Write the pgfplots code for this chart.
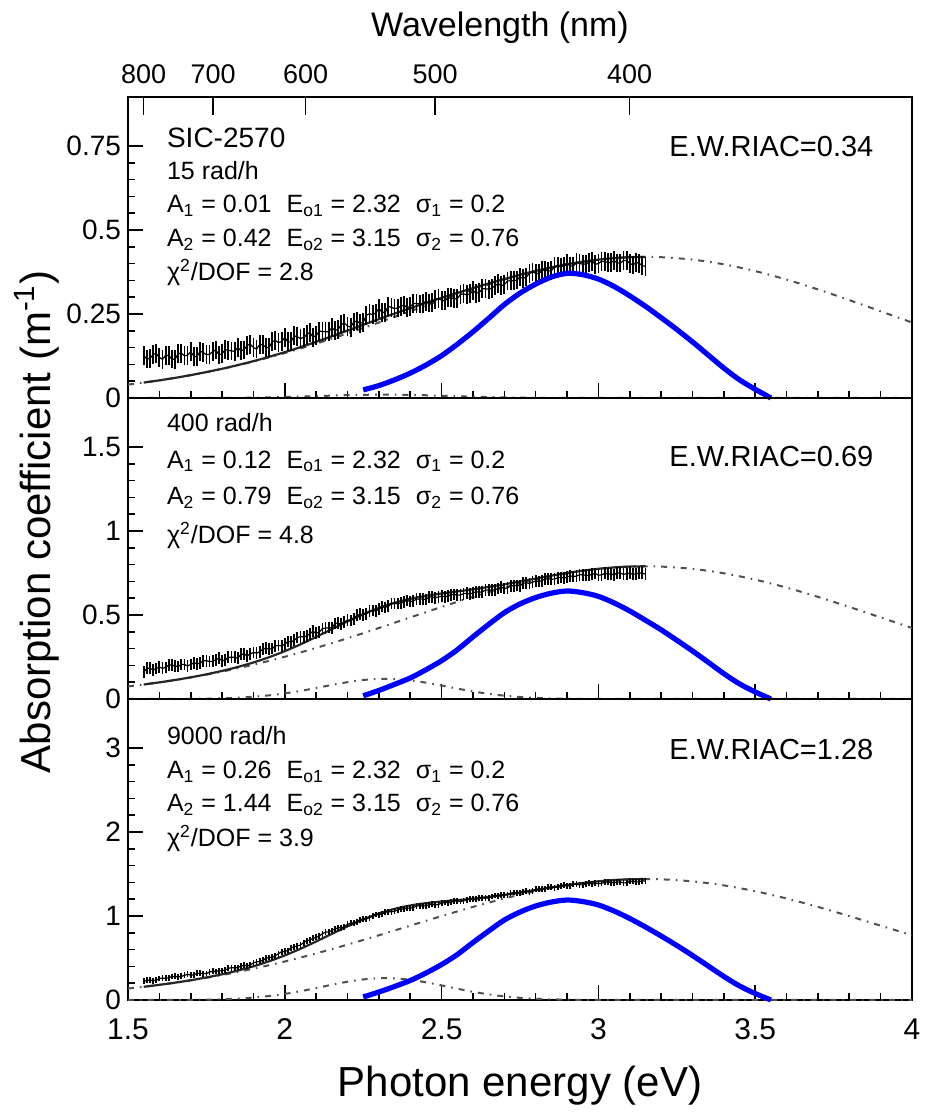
\documentclass[border=0pt]{standalone}
\usepackage{fontspec}
\setmainfont{Liberation Sans}
\usepackage{pgfplots}
\usepackage{pgfplotstable}
\pgfplotsset{compat=1.18}
\newcommand{\fs}[1]{\fontsize{#1}{#1}\selectfont}

\pgfplotstableread{
x T M B
1.55 0.126 0.160 0.222
1.56 0.116 0.183 0.233
1.57 0.117 0.183 0.239
1.58 0.130 0.172 0.231
1.59 0.132 0.182 0.236
1.60 0.121 0.189 0.256
1.61 0.115 0.183 0.260
1.62 0.127 0.188 0.259
1.63 0.126 0.202 0.263
1.64 0.116 0.203 0.280
1.65 0.115 0.195 0.281
1.66 0.132 0.194 0.273
1.67 0.133 0.206 0.281
1.68 0.126 0.205 0.294
1.69 0.127 0.197 0.305
1.70 0.138 0.205 0.297
1.71 0.124 0.216 0.297
1.72 0.123 0.209 0.317
1.73 0.139 0.214 0.317
1.74 0.135 0.227 0.314
1.75 0.129 0.228 0.315
1.76 0.130 0.223 0.332
1.77 0.138 0.224 0.344
1.78 0.143 0.234 0.339
1.79 0.128 0.243 0.349
1.80 0.132 0.227 0.351
1.81 0.144 0.231 0.357
1.82 0.142 0.249 0.377
1.83 0.140 0.248 0.385
1.84 0.139 0.248 0.381
1.85 0.150 0.242 0.387
1.86 0.141 0.266 0.402
1.87 0.143 0.267 0.412
1.88 0.157 0.257 0.408
1.89 0.160 0.268 0.417
1.90 0.150 0.277 0.443
1.91 0.146 0.273 0.453
1.92 0.159 0.281 0.460
1.93 0.159 0.298 0.472
1.94 0.150 0.302 0.497
1.95 0.150 0.297 0.506
1.96 0.168 0.300 0.509
1.97 0.171 0.316 0.528
1.98 0.165 0.319 0.552
1.99 0.168 0.315 0.574
2.00 0.180 0.327 0.578
2.01 0.167 0.342 0.589
2.02 0.167 0.339 0.621
2.03 0.185 0.349 0.633
2.04 0.182 0.366 0.642
2.05 0.177 0.371 0.655
2.06 0.180 0.370 0.683
2.07 0.189 0.375 0.706
2.08 0.195 0.389 0.712
2.09 0.181 0.403 0.733
2.10 0.186 0.391 0.745
2.11 0.199 0.398 0.761
2.12 0.198 0.419 0.790
2.13 0.197 0.421 0.807
2.14 0.197 0.425 0.812
2.15 0.209 0.422 0.827
2.16 0.201 0.449 0.846
2.17 0.204 0.452 0.860
2.18 0.219 0.445 0.860
2.19 0.223 0.458 0.873
2.20 0.214 0.470 0.901
2.21 0.211 0.468 0.913
2.22 0.226 0.478 0.920
2.23 0.229 0.498 0.932
2.24 0.222 0.504 0.957
2.25 0.225 0.502 0.966
2.26 0.246 0.506 0.965
2.27 0.251 0.523 0.980
2.28 0.248 0.527 1.000
2.29 0.253 0.524 1.018
2.30 0.267 0.535 1.016
2.31 0.255 0.550 1.021
2.32 0.255 0.545 1.045
2.33 0.273 0.553 1.049
2.34 0.270 0.568 1.050
2.35 0.266 0.569 1.055
2.36 0.268 0.568 1.073
2.37 0.273 0.571 1.086
2.38 0.277 0.579 1.082
2.39 0.269 0.587 1.093
2.40 0.272 0.580 1.094
2.41 0.281 0.583 1.100
2.42 0.281 0.595 1.118
2.43 0.280 0.594 1.124
2.44 0.281 0.595 1.118
2.45 0.288 0.592 1.122
2.46 0.283 0.607 1.133
2.47 0.285 0.607 1.139
2.48 0.294 0.602 1.131
2.49 0.296 0.608 1.136
2.50 0.291 0.612 1.156
2.51 0.289 0.609 1.160
2.52 0.298 0.612 1.159
2.53 0.299 0.621 1.163
2.54 0.295 0.622 1.180
2.55 0.296 0.618 1.181
2.56 0.308 0.619 1.173
2.57 0.310 0.627 1.181
2.58 0.307 0.629 1.194
2.59 0.310 0.625 1.205
2.60 0.319 0.631 1.197
2.61 0.312 0.638 1.197
2.62 0.314 0.635 1.217
2.63 0.325 0.639 1.217
2.64 0.325 0.648 1.214
2.65 0.324 0.649 1.215
2.66 0.327 0.648 1.232
2.67 0.334 0.650 1.244
2.68 0.340 0.658 1.239
2.69 0.334 0.665 1.249
2.70 0.338 0.658 1.250
2.71 0.348 0.661 1.255
2.72 0.349 0.674 1.273
2.73 0.349 0.674 1.279
2.74 0.351 0.676 1.273
2.75 0.360 0.674 1.277
2.76 0.356 0.690 1.289
2.77 0.360 0.692 1.296
2.78 0.371 0.688 1.289
2.79 0.375 0.696 1.295
2.80 0.371 0.702 1.316
2.81 0.370 0.700 1.321
2.82 0.380 0.704 1.321
2.83 0.381 0.714 1.326
2.84 0.378 0.716 1.344
2.85 0.379 0.713 1.346
2.86 0.391 0.714 1.338
2.87 0.393 0.722 1.346
2.88 0.390 0.724 1.359
2.89 0.393 0.720 1.370
2.90 0.401 0.726 1.361
2.91 0.393 0.733 1.360
2.92 0.393 0.729 1.378
2.93 0.403 0.732 1.376
2.94 0.401 0.740 1.371
2.95 0.398 0.740 1.370
2.96 0.399 0.736 1.383
2.97 0.404 0.736 1.391
2.98 0.407 0.742 1.382
2.99 0.398 0.747 1.388
3.00 0.400 0.737 1.385
3.01 0.407 0.738 1.387
3.02 0.406 0.748 1.402
3.03 0.404 0.745 1.405
3.04 0.403 0.744 1.396
3.05 0.409 0.739 1.397
3.06 0.402 0.751 1.404
3.07 0.402 0.749 1.406
3.08 0.409 0.742 1.394
3.09 0.409 0.746 1.395
3.10 0.401 0.748 1.411
3.11 0.396 0.743 1.411
3.12 0.403 0.744 1.406
3.13 0.401 0.750 1.406
3.14 0.394 0.749 1.419
3.15 0.392 0.743 1.416
}\datatab

\pgfplotstableread{
x T M B
1.55 0.0458 0.0861 0.1572
1.60 0.0525 0.0990 0.1804
1.65 0.0599 0.1131 0.2063
1.70 0.0681 0.1290 0.2354
1.75 0.0772 0.1469 0.2685
1.80 0.0870 0.1672 0.3062
1.85 0.0979 0.1906 0.3499
1.90 0.1097 0.2175 0.4011
1.95 0.1226 0.2488 0.4610
2.00 0.1365 0.2849 0.5307
2.05 0.1513 0.3253 0.6097
2.10 0.1672 0.3697 0.6965
2.15 0.1837 0.4160 0.7872
2.20 0.2007 0.4619 0.8766
2.25 0.2177 0.5047 0.9588
2.30 0.2347 0.5421 1.0291
2.35 0.2513 0.5727 1.0847
2.40 0.2673 0.5963 1.1249
2.45 0.2829 0.6141 1.1527
2.50 0.2981 0.6280 1.1723
2.55 0.3128 0.6404 1.1887
2.60 0.3270 0.6530 1.2058
2.65 0.3409 0.6671 1.2265
2.70 0.3541 0.6827 1.2512
2.75 0.3667 0.6998 1.2796
2.80 0.3783 0.7172 1.3097
2.85 0.3888 0.7344 1.3398
2.90 0.3980 0.7502 1.3680
2.95 0.4057 0.7639 1.3928
3.00 0.4119 0.7752 1.4130
3.05 0.4164 0.7834 1.4279
3.10 0.4191 0.7884 1.4369
3.15 0.4200 0.7900 1.4400
}\fittab

\pgfplotstableread{
x T M B
1.5 0.0398 0.0748 0.1364
1.6 0.0525 0.0988 0.1800
1.7 0.0680 0.1280 0.2333
1.8 0.0867 0.1631 0.2974
1.9 0.1086 0.2043 0.3724
2.0 0.1337 0.2515 0.4584
2.1 0.1617 0.3042 0.5545
2.2 0.1923 0.3617 0.6594
2.3 0.2247 0.4227 0.7704
2.4 0.2581 0.4855 0.8849
2.5 0.2914 0.5480 0.9989
2.6 0.3232 0.6080 1.1082
2.7 0.3525 0.6630 1.2084
2.8 0.3777 0.7105 1.2951
2.9 0.3979 0.7484 1.3641
3.0 0.4119 0.7748 1.4122
3.1 0.4191 0.7883 1.4368
3.15 0.4200 0.7900 1.4400
3.2 0.4191 0.7883 1.4368
3.3 0.4119 0.7748 1.4122
3.4 0.3979 0.7484 1.3641
3.5 0.3777 0.7105 1.2951
3.6 0.3525 0.6630 1.2084
3.7 0.3232 0.6080 1.1082
3.8 0.2914 0.5480 0.9989
3.9 0.2581 0.4855 0.8849
4.0 0.2247 0.4227 0.7704
}\comptwo

\pgfplotstableread{
x T M B
1.50 0.0000 0.0000 0.0001
1.55 0.0000 0.0001 0.0002
1.60 0.0000 0.0002 0.0004
1.65 0.0000 0.0004 0.0010
1.70 0.0001 0.0010 0.0021
1.75 0.0002 0.0021 0.0045
1.80 0.0003 0.0041 0.0088
1.85 0.0006 0.0076 0.0164
1.90 0.0011 0.0132 0.0287
1.95 0.0018 0.0217 0.0470
2.00 0.0028 0.0334 0.0723
2.05 0.0040 0.0482 0.1045
2.10 0.0055 0.0655 0.1420
2.15 0.0070 0.0836 0.1812
2.20 0.0084 0.1002 0.2172
2.25 0.0094 0.1129 0.2446
2.30 0.0100 0.1194 0.2587
2.35 0.0099 0.1187 0.2571
2.40 0.0092 0.1108 0.2400
2.45 0.0081 0.0972 0.2105
2.50 0.0067 0.0800 0.1734
2.55 0.0052 0.0619 0.1342
2.60 0.0038 0.0450 0.0976
2.65 0.0026 0.0308 0.0667
2.70 0.0016 0.0197 0.0428
2.75 0.0010 0.0119 0.0258
2.80 0.0006 0.0067 0.0146
2.85 0.0003 0.0036 0.0078
2.90 0.0001 0.0018 0.0039
2.95 0.0000 0.0008 0.0018
3.00 0.0000 0.0004 0.0008
3.05 0.0000 0.0002 0.0003
3.10 0.0000 0.0001 0.0001
3.20 0.0000 0.0000 0.0000
4.00 0.0000 0.0000 0.0000
}\compone

\pgfplotstableread{
x T M B
2.25 0.024 0.019 0.036
2.30 0.037 0.051 0.095
2.35 0.054 0.087 0.161
2.40 0.074 0.125 0.232
2.45 0.098 0.174 0.321
2.50 0.126 0.228 0.422
2.55 0.160 0.293 0.541
2.60 0.197 0.370 0.684
2.65 0.237 0.444 0.821
2.70 0.278 0.514 0.952
2.75 0.312 0.566 1.047
2.80 0.339 0.604 1.119
2.85 0.360 0.630 1.166
2.90 0.371 0.643 1.190
2.95 0.367 0.633 1.172
3.00 0.354 0.611 1.131
3.05 0.332 0.572 1.059
3.10 0.304 0.524 0.970
3.15 0.273 0.469 0.869
3.20 0.239 0.412 0.762
3.25 0.204 0.350 0.649
3.30 0.167 0.286 0.530
3.35 0.128 0.219 0.405
3.40 0.089 0.151 0.280
3.45 0.054 0.090 0.167
3.50 0.026 0.042 0.077
3.55 0.000 0.000 0.000
}\bluetab

\definecolor{dd}{RGB}{80,80,80}
\pgfplotsset{
  panel/.style={
    scale only axis, width=392pt, height=150.5pt,
    anchor=south west,
    xmin=1.5, xmax=4, ymin=0,
    xtick={1.5,2,2.5,3,3.5,4}, minor x tick num=4, minor y tick num=4,
    tick align=inside, xtick pos=left, ytick pos=left,
    major tick length=7.5pt, minor tick length=3.5pt,
    axis line style={line width=1pt},
    every tick/.style={line width=0.8pt, black},
    yticklabel style={font=\fs{14}, inner ysep=0pt},
    xticklabel style={font=\fs{15}, inner ysep=1pt, yshift=-8pt},
    /pgf/number format/assume math mode=true,
    clip=false,
  },
  fitline/.style={black!85, line width=1.1pt, smooth, no marks},
  ddline/.style={dd, line width=1pt, smooth, no marks,
    dash pattern=on 3pt off 3pt on 0.8pt off 3pt},
  bluel/.style={blue, line width=2.6pt, smooth, no marks},
  datal/.style={black, line width=0.6pt, no marks,
    error bars/.cd, y dir=both, y fixed=#1,
    error bar style={line width=0.9pt, black}, error mark=none},
}

\begin{document}
\begin{tikzpicture}
\useasboundingbox (0,0) rectangle (464.5pt,556pt);

% ---------- top panel ----------
\begin{axis}[panel, at={(64pt,357pt)}, ymax=0.896,
  ytick={0,0.25,0.5,0.75}, xticklabels={}]
  \addplot[ddline] table[x=x,y=T]{\comptwo};
  \addplot[ddline] table[x=x,y=T]{\compone};
  \addplot[fitline] table[x=x,y=T]{\fittab};
  \addplot[datal=0.028] table[x=x,y=T]{\datatab};
  \addplot[bluel] table[x=x,y=T]{\bluetab};
  \node[anchor=base west, font=\fs{14}] at (axis cs:1.602,0.747) {SIC-2570};
  \node[anchor=base west, font=\fs{12.5}] at (axis cs:1.602,0.649) {15 rad/h};
  \node[anchor=base west, font=\fs{12.5}] at (axis cs:1.602,0.551) {A\textsubscript{1} = 0.01\hspace{0.6em}E\textsubscript{o1} = 2.32\hspace{0.6em}σ\textsubscript{1} = 0.2};
  \node[anchor=base west, font=\fs{12.5}] at (axis cs:1.602,0.450) {A\textsubscript{2} = 0.42\hspace{0.6em}E\textsubscript{o2} = 3.15\hspace{0.6em}σ\textsubscript{2} = 0.76};
  \node[anchor=base west, font=\fs{12.5}] at (axis cs:1.602,0.351) {χ\textsuperscript{2}/DOF = 2.8};
  \node[anchor=base west, font=\fs{14.5}] at (axis cs:3.204,0.718) {E.W.RIAC=0.34};
\end{axis}

% ---------- wavelength axis ----------
\begin{axis}[scale only axis, width=392pt, height=150.5pt,
  at={(64pt,357pt)}, anchor=south west,
  xmin=1.5, xmax=4, ymin=0, ymax=1,
  axis x line*=top, axis y line=none,
  xtick={1.5498,1.7712,2.0664,2.4797,3.0996},
  xticklabels={800,700,600,500,400},
  minor x tick num=0,
  tick align=inside, major tick length=9pt,
  every tick/.style={line width=0.8pt, black},
  axis line style={line width=1pt},
  xticklabel style={font=\fs{13.5}, yshift=3pt}]
  \addplot[draw=none] coordinates {(2,0.5)};
\end{axis}

% ---------- middle panel ----------
\begin{axis}[panel, at={(64pt,206.5pt)}, ymax=1.792,
  ytick={0,0.5,1,1.5}, xticklabels={}]
  \addplot[ddline] table[x=x,y=M]{\comptwo};
  \addplot[ddline] table[x=x,y=M]{\compone};
  \addplot[fitline] table[x=x,y=M]{\fittab};
  \addplot[datal=0.035] table[x=x,y=M]{\datatab};
  \addplot[bluel] table[x=x,y=M]{\bluetab};
  \node[anchor=base west, font=\fs{12.5}] at (axis cs:1.602,1.591) {400 rad/h};
  \node[anchor=base west, font=\fs{12.5}] at (axis cs:1.602,1.375) {A\textsubscript{1} = 0.12\hspace{0.6em}E\textsubscript{o1} = 2.32\hspace{0.6em}σ\textsubscript{1} = 0.2};
  \node[anchor=base west, font=\fs{12.5}] at (axis cs:1.602,1.155) {A\textsubscript{2} = 0.79\hspace{0.6em}E\textsubscript{o2} = 3.15\hspace{0.6em}σ\textsubscript{2} = 0.76};
  \node[anchor=base west, font=\fs{12.5}] at (axis cs:1.602,0.927) {χ\textsuperscript{2}/DOF = 4.8};
  \node[anchor=base west, font=\fs{14.5}] at (axis cs:3.204,1.383) {E.W.RIAC=0.69};
\end{axis}

% ---------- bottom panel ----------
\begin{axis}[panel, at={(64pt,56pt)}, ymax=3.583,
  ytick={0,1,2,3}]
  \addplot[ddline] table[x=x,y=B]{\comptwo};
  \addplot[ddline] table[x=x,y=B]{\compone};
  \addplot[fitline] table[x=x,y=B]{\fittab};
  \addplot[datal=0.035] table[x=x,y=B]{\datatab};
  \addplot[bluel] table[x=x,y=B]{\bluetab};
  \node[anchor=base west, font=\fs{12.5}] at (axis cs:1.602,3.036) {9000 rad/h};
  \node[anchor=base west, font=\fs{12.5}] at (axis cs:1.602,2.639) {A\textsubscript{1} = 0.26\hspace{0.6em}E\textsubscript{o1} = 2.32\hspace{0.6em}σ\textsubscript{1} = 0.2};
  \node[anchor=base west, font=\fs{12.5}] at (axis cs:1.602,2.242) {A\textsubscript{2} = 1.44\hspace{0.6em}E\textsubscript{o2} = 3.15\hspace{0.6em}σ\textsubscript{2} = 0.76};
  \node[anchor=base west, font=\fs{12.5}] at (axis cs:1.602,1.825) {χ\textsuperscript{2}/DOF = 3.9};
  \node[anchor=base west, font=\fs{14.5}] at (axis cs:3.204,2.857) {E.W.RIAC=1.28};
\end{axis}

\node[rotate=90, anchor=base, font=\fs{21}] at (25pt,295pt) {Absorption coefficient (m\textsuperscript{-1})};
\node[anchor=base, font=\fs{21}] at (260pt,7.5pt) {Photon energy (eV)};
\node[anchor=base, font=\fs{17}] at (250pt,537.5pt) {Wavelength (nm)};
\end{tikzpicture}
\end{document}
